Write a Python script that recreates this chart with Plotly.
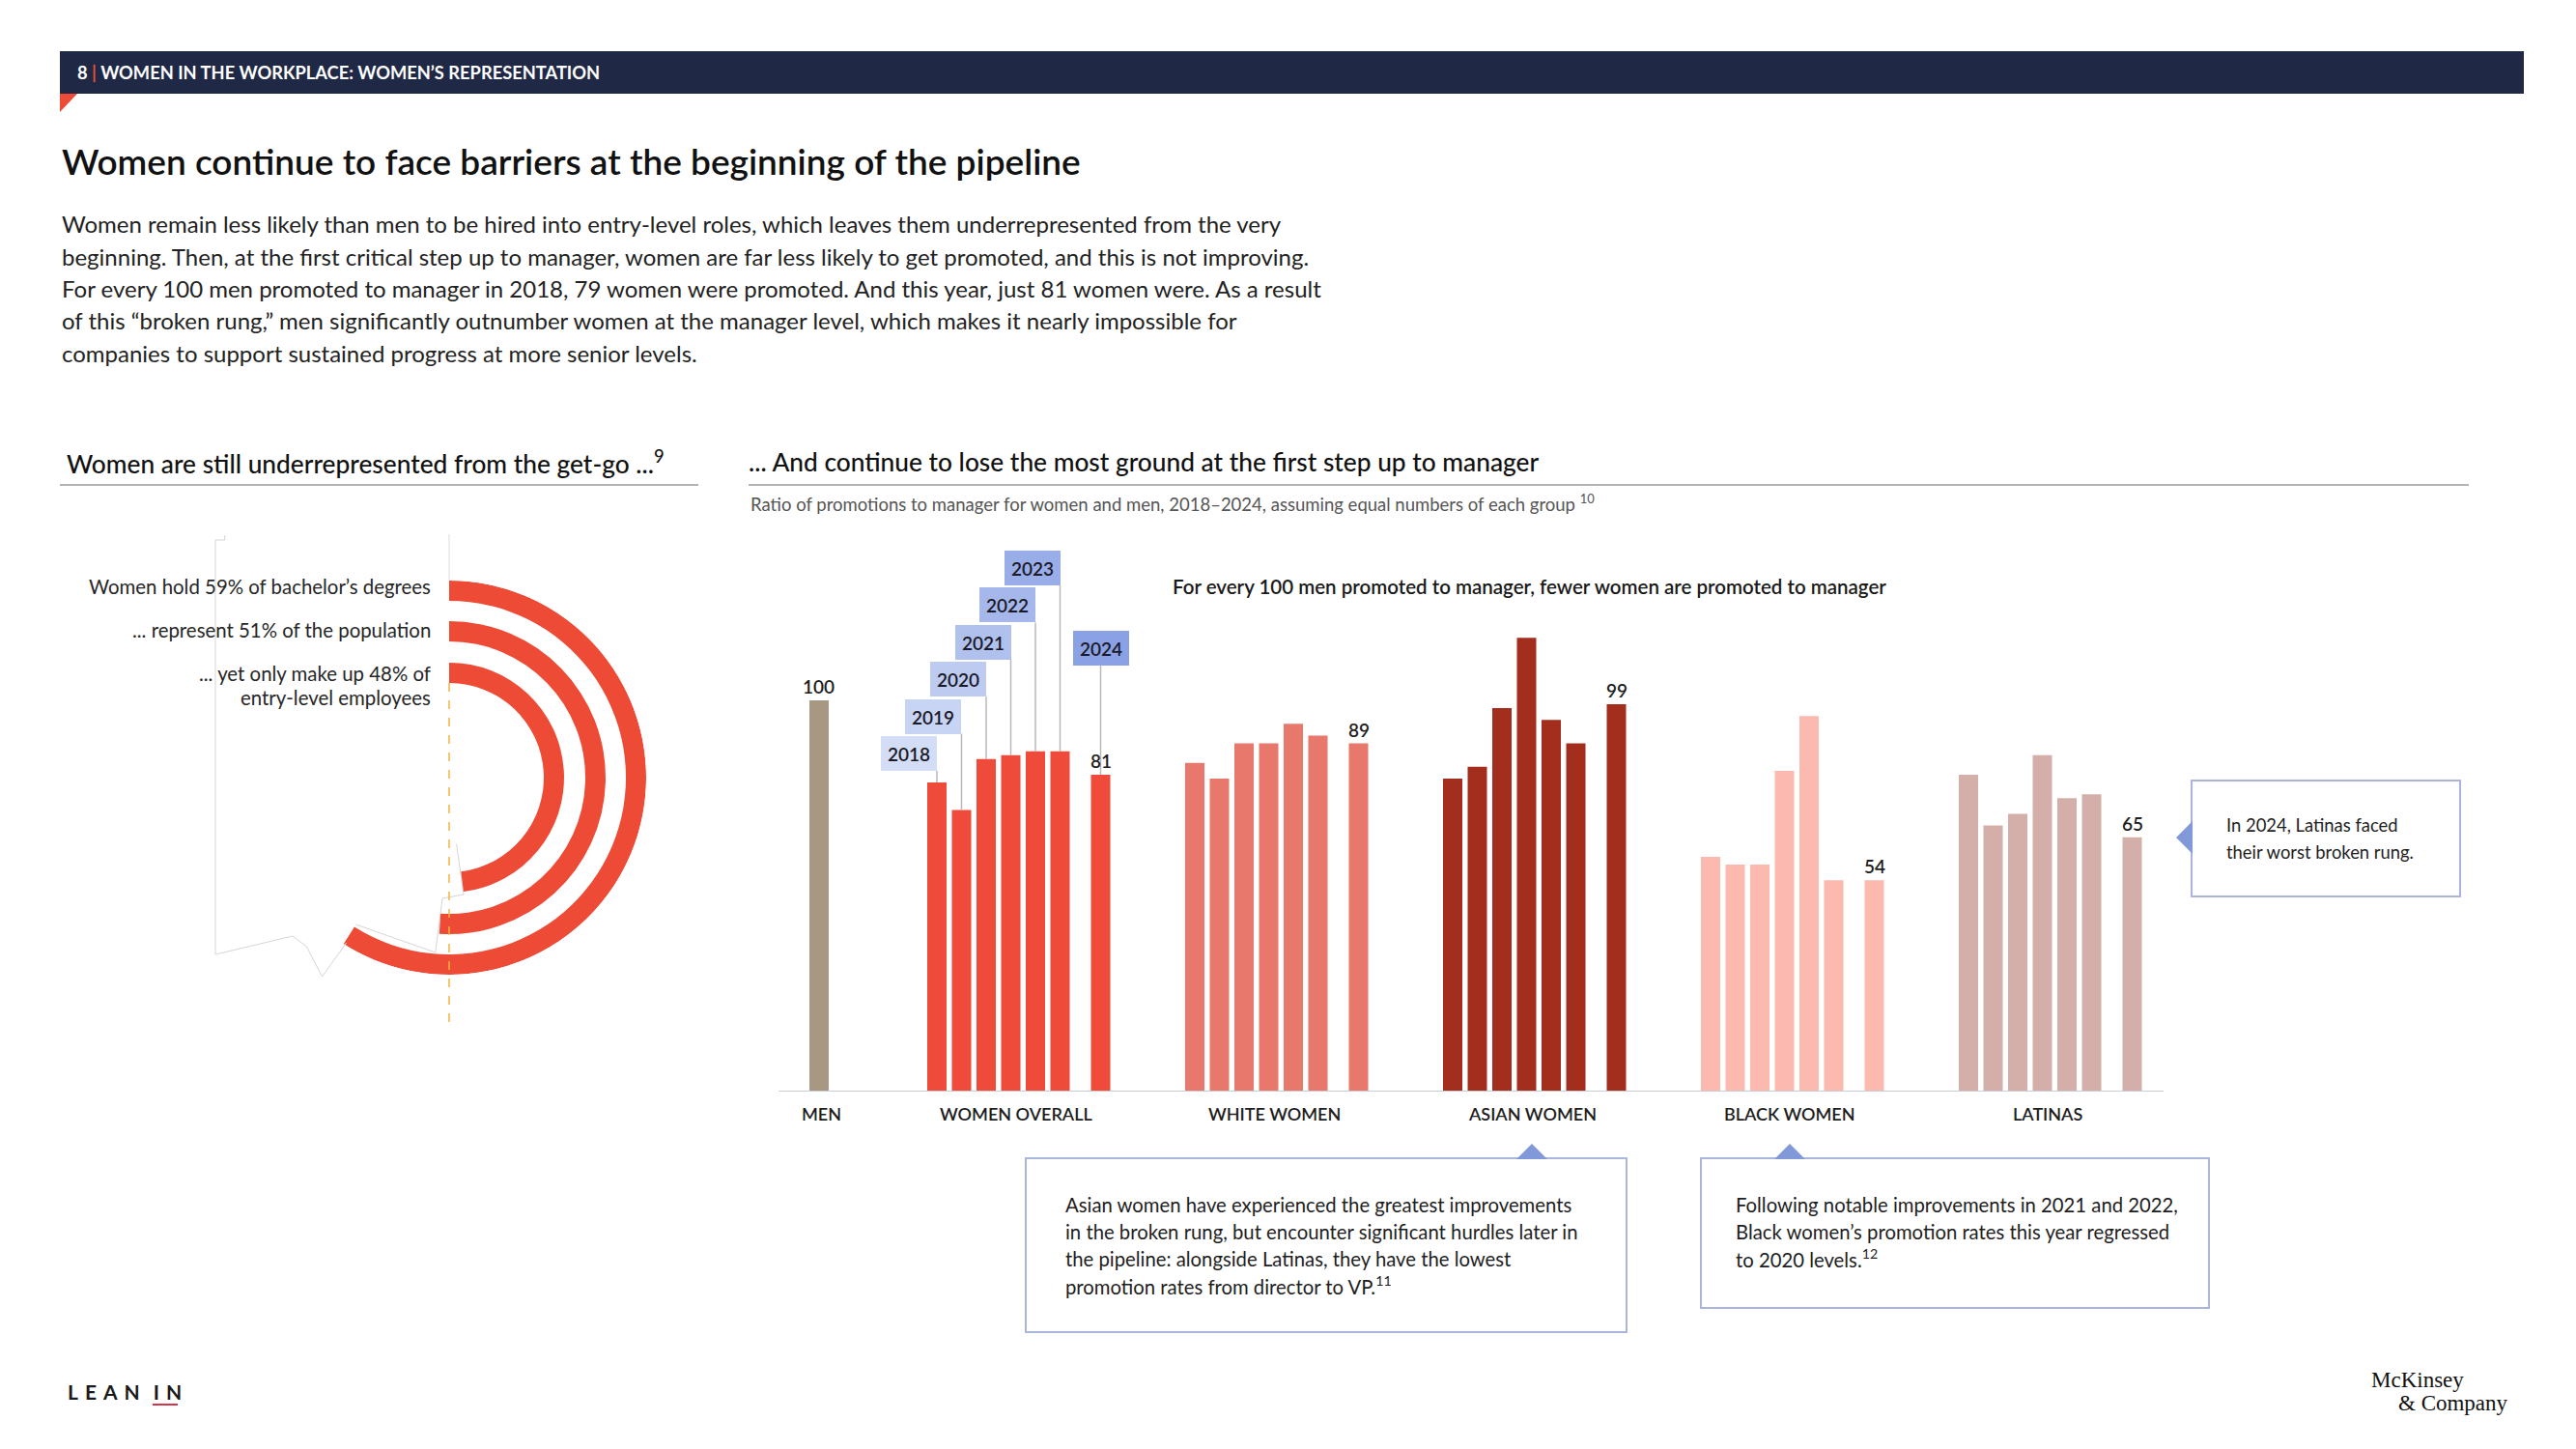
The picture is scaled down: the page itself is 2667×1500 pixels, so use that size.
import plotly.graph_objects as go

W, H = 2667, 1500
PAGE_MARGIN = 8          # browser body margin
FW, FH = W - 2 * PAGE_MARGIN, H - 2 * PAGE_MARGIN

# ---------------- data ----------------
years = ["2018", "2019", "2020", "2021", "2022", "2023", "2024"]
men_label = "MEN"
men_value = 100
group_labels = ["WOMEN OVERALL", "WHITE WOMEN", "ASIAN WOMEN", "BLACK WOMEN", "LATINAS"]
women_overall = [79, 72, 85, 86, 87, 87, 81]
white_women = [84, 80, 89, 89, 94, 91, 89]
asian_women = [80, 83, 98, 116, 95, 89, 99]
black_women = [60, 58, 58, 82, 96, 54, 54]
latinas = [81, 68, 71, 86, 75, 76, 65]
group_values = [women_overall, white_women, asian_women, black_women, latinas]

ring_values = [59, 51, 48]
ring_labels = [
    ["Women hold 59% of bachelor’s degrees"],
    ["... represent 51% of the population"],
    ["... yet only make up 48% of", "entry-level employees"],
]

header_text = ("<b>8 <span style='color:#ee4b37'>|</span> WOMEN IN THE WORKPLACE: "
               "WOMEN’S REPRESENTATION</b>")
title_text = "Women continue to face barriers at the beginning of the pipeline"
paragraph_lines = [
    "Women remain less likely than men to be hired into entry-level roles, which leaves them underrepresented from the very",
    "beginning. Then, at the first critical step up to manager, women are far less likely to get promoted, and this is not improving.",
    "For every 100 men promoted to manager in 2018, 79 women were promoted. And this year, just 81 women were. As a result",
    "of this “broken rung,” men significantly outnumber women at the manager level, which makes it nearly impossible for",
    "companies to support sustained progress at more senior levels.",
]
left_title = "Women are still underrepresented from the get-go ...<sup>9</sup>"
right_title = "... And continue to lose the most ground at the first step up to manager"
right_subtitle = ("Ratio of promotions to manager for women and men, 2018–2024, "
                  "assuming equal numbers of each group <sup>10</sup>")
chart_note = "For every 100 men promoted to manager, fewer women are promoted to manager"
latina_note = ["In 2024, Latinas faced", "their worst broken rung."]
asian_note = [
    "Asian women have experienced the greatest improvements",
    "in the broken rung, but encounter significant hurdles later in",
    "the pipeline: alongside Latinas, they have the lowest",
    "promotion rates from director to VP.<sup>11</sup>",
]
black_note = [
    "Following notable improvements in 2021 and 2022,",
    "Black women’s promotion rates this year regressed",
    "to 2020 levels.<sup>12</sup>",
]

# ---------------- style / layout constants ----------------
FONT = "Lato"
TXT = "#1e1e1e"
MEN_COLOR = "#a89883"
GROUP_COLORS = ["#ef4b3a", "#e8776c", "#a32e1e", "#fbb9b0", "#d4afa9"]
YEAR_BOX_COLORS = ["#d3ddf6", "#c8d4f3", "#bdcbf1", "#b1c1ee", "#a5b7eb", "#99ade8", "#8aa1e5"]
RING_COLOR = "#ee4b37"
NAVY = "#1f2945"
CALLOUT_LINE = "#a9b5dc"
POINTER = "#8199d9"

BASE_Y = 1130          # pixel row of the bar baseline
PX_PER_UNIT = 4.05     # pixels per ratio unit
TOP_Y = 480
X_LEFT, X_RIGHT = 806, 2240
MEN_X = 848
G0 = 970
GSTEP = 267
BSTEP = 25.5
LAST_EXTRA = 16.5
BAR_W = 20
YMAX = (BASE_Y - TOP_Y) / PX_PER_UNIT

RING_CX, RING_CY, RING_R = 465, 805, 204
RING_INNER = [183, 141, 98]
RING_THICK = 21


def px(x):
    return (x - PAGE_MARGIN) / FW


def py(y):
    return 1 - (y - PAGE_MARGIN) / FH


def unit(pix_y):
    """pixel row -> y-axis units"""
    return (BASE_Y - pix_y) / PX_PER_UNIT


def bar_x(g, i):
    return G0 + g * GSTEP + i * BSTEP + (LAST_EXTRA if i == len(years) - 1 else 0)


fig = go.Figure()
annotations = []
shapes = []


def text(x, y, t, size=20, color=TXT, xanchor="left", yanchor="middle", weight=400,
         family=FONT, **kw):
    annotations.append(dict(x=px(x), y=py(y), xref="paper", yref="paper", text=t,
                            showarrow=False, xanchor=xanchor, yanchor=yanchor,
                            font=dict(size=size, color=color, family=family, weight=weight),
                            **kw))


# ---------------- bars ----------------
fig.add_trace(go.Bar(x=[MEN_X], y=[men_value], width=BAR_W, marker_color=MEN_COLOR,
                     marker_line_width=0, name=men_label, showlegend=False, hoverinfo="skip"))
for g, vals in enumerate(group_values):
    xs = [bar_x(g, i) for i in range(len(years))]
    fig.add_trace(go.Bar(x=xs, y=vals, width=BAR_W, marker_color=GROUP_COLORS[g],
                         marker_line_width=0, name=group_labels[g], showlegend=False,
                         customdata=years, hovertemplate="%{customdata}: %{y}<extra></extra>"))
    # 2024 value label
    annotations.append(dict(x=xs[-1], y=vals[-1], xref="x", yref="y", text=str(vals[-1]),
                            showarrow=False, yanchor="bottom", yshift=1,
                            font=dict(size=19, color=TXT, family=FONT, weight=600)))
    # group label
    annotations.append(dict(x=xs[0] + 82, y=py(1153), xref="x", yref="paper",
                            text=group_labels[g], showarrow=False, yanchor="middle",
                            font=dict(size=18, color=TXT, family=FONT, weight=600)))

annotations.append(dict(x=MEN_X, y=men_value, xref="x", yref="y", text=str(men_value),
                        showarrow=False, yanchor="bottom", yshift=1,
                        font=dict(size=19, color=TXT, family=FONT, weight=600)))
annotations.append(dict(x=MEN_X + 3, y=py(1153), xref="x", yref="paper", text=men_label,
                        showarrow=False, yanchor="middle",
                        font=dict(size=18, color=TXT, family=FONT, weight=600)))

# year boxes for women overall
for i, yr in enumerate(years):
    bx = bar_x(0, i)
    val = women_overall[i]
    if i < len(years) - 1:
        bottom = unit(798 - 38.4 * i)
        xanchor = "right"
    else:
        bottom = unit(689)
        xanchor = "center"
    shapes.append(dict(type="line", xref="x", yref="y", x0=bx, x1=bx, y0=val, y1=bottom,
                       line=dict(color="#b8b8b8", width=1.5)))
    annotations.append(dict(x=bx, y=bottom, xref="x", yref="y", text=yr, showarrow=False,
                            xanchor=xanchor, yanchor="bottom", width=58, height=36,
                            bgcolor=YEAR_BOX_COLORS[i], borderpad=0, borderwidth=0,
                            font=dict(size=19, color="#1a1a28", family=FONT, weight=600)))

# baseline
shapes.append(dict(type="line", xref="x", yref="y", x0=X_LEFT, x1=X_RIGHT, y0=0, y1=0,
                   line=dict(color="#c9cdd6", width=2), layer="above"))

# ---------------- rings (barpolar) ----------------
for k, v in enumerate(ring_values):
    fig.add_trace(go.Barpolar(theta=[v * 3.6 / 2], width=[v * 3.6], base=[RING_INNER[k]],
                              r=[RING_THICK], marker_color=RING_COLOR, marker_line_width=0,
                              subplot="polar", showlegend=False,
                              hovertemplate=f"{v}%<extra></extra>"))

# ring labels
label_rows = [[607], [652], [697, 722]]
for lines, rows in zip(ring_labels, label_rows):
    for t, r in zip(lines, rows):
        text(448, r, t, size=20.4, xanchor="right", color="#262626")

# faint guide lines around the rings
shapes.append(dict(type="line", xref="paper", yref="paper", x0=px(465), x1=px(465),
                   y0=py(553), y1=py(601), line=dict(color="#dddddd", width=1)))
shapes.append(dict(type="line", xref="paper", yref="paper", x0=px(465), x1=px(465),
                   y0=py(707), y1=py(1058), line=dict(color="#f3b23e", width=1.5, dash="dash")))
outline = [(232.7, 554), (232.7, 559), (223, 559), (223, 988), (303, 969), (317.5, 980),
           (333.5, 1011), (358.7, 976)]
shapes.append(dict(type="path", xref="paper", yref="paper",
                   path="M " + " L ".join(f"{px(a)},{py(b)}" for a, b in outline),
                   line=dict(color="#d6d6d6", width=1)))
outline2 = [(368.4, 957), (450.8, 986), (458, 930), (480, 926), (472.6, 873.7)]
shapes.append(dict(type="path", xref="paper", yref="paper",
                   path="M " + " L ".join(f"{px(a)},{py(b)}" for a, b in outline2),
                   line=dict(color="#d6d6d6", width=1), layer="below"))

# ---------------- header / titles ----------------
shapes.append(dict(type="rect", xref="paper", yref="paper", x0=px(62), x1=px(2613),
                   y0=py(97), y1=py(53), fillcolor=NAVY, line=dict(width=0)))
shapes.append(dict(type="path", xref="paper", yref="paper",
                   path=f"M {px(62)},{py(97)} L {px(80)},{py(97)} L {px(62)},{py(116)} Z",
                   fillcolor=RING_COLOR, line=dict(width=0)))
text(78, 75, header_text, size=18.3, color="white")
text(62, 166, title_text, size=37, weight=600, color="#111111")
for j, line in enumerate(paragraph_lines):
    text(62, 232 + 33.3 * j, line, size=24, color="#222222")

text(67, 478, left_title, size=26.3, weight=500, color="#111111")
shapes.append(dict(type="line", xref="paper", yref="paper", x0=px(62), x1=px(723),
                   y0=py(502), y1=py(502), line=dict(color="#9a9a9a", width=1.5)))
text(773, 478, right_title, size=26.3, weight=500, color="#111111")
shapes.append(dict(type="line", xref="paper", yref="paper", x0=px(775), x1=px(2556),
                   y0=py(502), y1=py(502), line=dict(color="#9a9a9a", width=1.5)))
text(775, 520, right_subtitle, size=18.5, color="#555555")
text(1212, 607, chart_note, size=20.5, weight=600, color="#1a1a1a")

# ---------------- callouts ----------------
def callout(x0, y0, x1, y1):
    shapes.append(dict(type="rect", xref="paper", yref="paper", x0=px(x0), x1=px(x1),
                       y0=py(y1), y1=py(y0), fillcolor="white",
                       line=dict(color=CALLOUT_LINE, width=2)))


def tri(pts):
    shapes.append(dict(type="path", xref="paper", yref="paper",
                       path="M " + " L ".join(f"{px(a)},{py(b)}" for a, b in pts) + " Z",
                       fillcolor=POINTER, line=dict(width=0)))


callout(2269, 808, 2547, 928)
tri([(2253, 867), (2270, 850), (2270, 884)])
for j, line in enumerate(latina_note):
    text(2303, 854 + 28 * j, line, size=18.4)

asian_cx = bar_x(2, 0) + 82
black_cx = bar_x(3, 0) + 82
callout(1062, 1199, 1684, 1379)
tri([(asian_cx, 1184), (asian_cx - 16, 1200), (asian_cx + 16, 1200)])
for j, line in enumerate(asian_note):
    text(1101, 1247 + 27.8 * j, line, size=20.3)

callout(1761, 1199, 2287, 1354)
tri([(black_cx, 1184), (black_cx - 16, 1200), (black_cx + 16, 1200)])
for j, line in enumerate(black_note):
    text(1795, 1247 + 27.8 * j, line, size=20.3)

# ---------------- logos ----------------
sp = "\u2004"
text(68, 1440, f"L{sp}E{sp}A{sp}N{sp}{sp}I{sp}N", size=21, weight=700, color="#1a1a1a")
shapes.append(dict(type="line", xref="paper", yref="paper", x0=px(158), x1=px(184),
                   y0=py(1454), y1=py(1454), line=dict(color="#d2344a", width=2)))
text(2453, 1428, "McKinsey", size=23, family="Liberation Serif", color="#111111")
text(2481, 1452, "&amp; Company", size=23, family="Liberation Serif", color="#111111")

# ---------------- layout ----------------
fig.update_layout(
    width=FW, height=FH, autosize=False,
    margin=dict(l=0, r=0, t=0, b=0, pad=0),
    paper_bgcolor="white", plot_bgcolor="rgba(0,0,0,0)",
    font=dict(family=FONT, color=TXT),
    barmode="overlay",
    showlegend=False,
    xaxis=dict(range=[X_LEFT, X_RIGHT], domain=[px(X_LEFT), px(X_RIGHT)], visible=False,
               fixedrange=True),
    yaxis=dict(range=[0, YMAX], domain=[py(BASE_Y), py(TOP_Y)], visible=False,
               fixedrange=True),
    polar=dict(
        domain=dict(x=[px(RING_CX - RING_R), px(RING_CX + RING_R)],
                    y=[py(RING_CY + RING_R), py(RING_CY - RING_R)]),
        bgcolor="rgba(0,0,0,0)",
        radialaxis=dict(visible=False, range=[0, RING_R]),
        angularaxis=dict(visible=False, direction="clockwise", rotation=90),
    ),
    annotations=annotations,
    shapes=shapes,
)

fig.write_html("out.html", config={"displayModeBar": False})
